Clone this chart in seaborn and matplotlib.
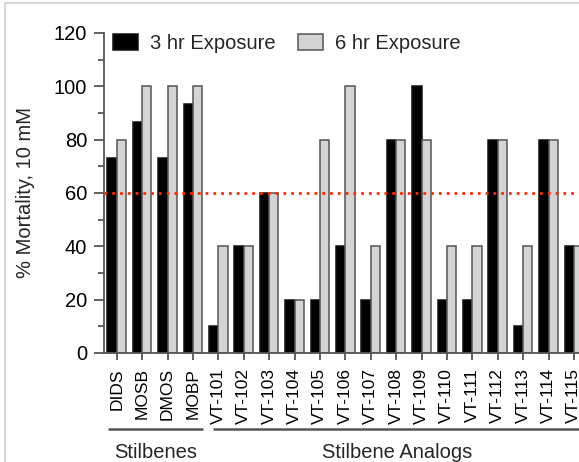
import matplotlib
matplotlib.use("Agg")
import matplotlib.pyplot as plt
import matplotlib.transforms as mtransforms
from matplotlib.patches import Patch
from matplotlib.lines import Line2D
import seaborn as sns
import pandas as pd

# Compounds and mortality (%) at 10 mM
compounds = ["DIDS", "MOSB", "DMOS", "MOBP",
             "VT-101", "VT-102", "VT-103", "VT-104", "VT-105", "VT-106",
             "VT-107", "VT-108", "VT-109", "VT-110", "VT-111", "VT-112",
             "VT-113", "VT-114", "VT-115"]
mort_3hr = [73.3, 86.7, 73.3, 93.3,
            10, 40, 60, 20, 20, 40, 20, 80, 100, 20, 20, 80, 10, 80, 40]
mort_6hr = [80, 100, 100, 100,
            40, 40, 60, 20, 80, 100, 40, 80, 80, 40, 40, 80, 40, 80, 40]
series = ["3 hr Exposure", "6 hr Exposure"]
threshold = 60
groups = ["Stilbenes", "Stilbene Analogs"]

df = pd.DataFrame({
    "Compound": compounds * 2,
    "Mortality": mort_3hr + mort_6hr,
    "Exposure": [series[0]] * len(compounds) + [series[1]] * len(compounds),
})

sns.set_theme(style="ticks")
plt.rcParams["font.family"] = ["Liberation Sans", "DejaVu Sans"]

fig = plt.figure(figsize=(5.79, 4.62), dpi=100)
ax = fig.add_axes([104 / 579, 109 / 462, 1 - 104 / 579, 320 / 462])

fills = {series[0]: "#000000", series[1]: "#D4D4D4"}
sns.barplot(data=df, x="Compound", y="Mortality", hue="Exposure",
            order=compounds, hue_order=series, palette=fills,
            width=0.73, saturation=1, legend=False, ax=ax, zorder=2)

edge = {series[0]: "#111111", series[1]: "#555555"}
for cont, name in zip(ax.containers, series):
    for bar in cont:
        bar.set_edgecolor(edge[name])
        bar.set_linewidth(1.1)

ax.set_xlim(-0.5, 18.2)
ax.set_ylim(0, 120)
ax.axhline(threshold, color="#FF2A00", lw=2.0, linestyle=(0, (1, 1.8)),
           zorder=5)

spine_c = "#555555"
for side in ("top", "right"):
    ax.spines[side].set_visible(False)
for side in ("left", "bottom"):
    ax.spines[side].set_color(spine_c)
    ax.spines[side].set_linewidth(1.3)

ax.set_yticks(range(0, 121, 20))
ax.set_yticks(range(10, 120, 20), minor=True)
ax.tick_params(axis="y", which="major", length=7, width=1.3, color=spine_c,
               labelsize=14.5, pad=5, labelcolor="black")
ax.tick_params(axis="y", which="minor", length=4, width=1.3, color=spine_c)
ax.tick_params(axis="x", length=5, width=1.3, color=spine_c,
               labelsize=12.5, pad=6, labelrotation=90, labelcolor="black")
ax.set_xlabel("")
ax.set_ylabel("% Mortality, 10 mM", fontsize=14.5, labelpad=14)

handles = [Patch(facecolor=fills[s], edgecolor=edge[s], linewidth=1.1)
           for s in series]
ax.legend(handles, series, loc="upper left",
          bbox_to_anchor=(0.019, 0.998), frameon=False, ncol=2,
          fontsize=14.5, handlelength=1.23, handleheight=0.84,
          handletextpad=0.6, columnspacing=1.13, borderpad=0,
          borderaxespad=0)

# Group brackets below the tick labels
trans = mtransforms.blended_transform_factory(ax.transData, ax.transAxes)
spans = [(-0.34, 3.40), (3.79, 18.6)]
text_x = [1.53, 11.05]
for (x0, x1), tx, name in zip(spans, text_x, groups):
    ax.plot([x0, x1], [-0.2375, -0.2375], color="#555555", lw=1.8,
            transform=trans, clip_on=False, solid_capstyle="butt")
    ax.text(tx, -0.3125, name, transform=trans, ha="center", va="center",
            fontsize=14.5)

# Light page frame
fig.add_artist(Line2D([5 / 579, 1], [1 - 3 / 462, 1 - 3 / 462],
                      transform=fig.transFigure, color="#D0D0D0", lw=1.2))
fig.add_artist(Line2D([5 / 579, 5 / 579], [0, 1 - 3 / 462],
                      transform=fig.transFigure, color="#D0D0D0", lw=1.2))

fig.savefig("out.png", dpi=100)
